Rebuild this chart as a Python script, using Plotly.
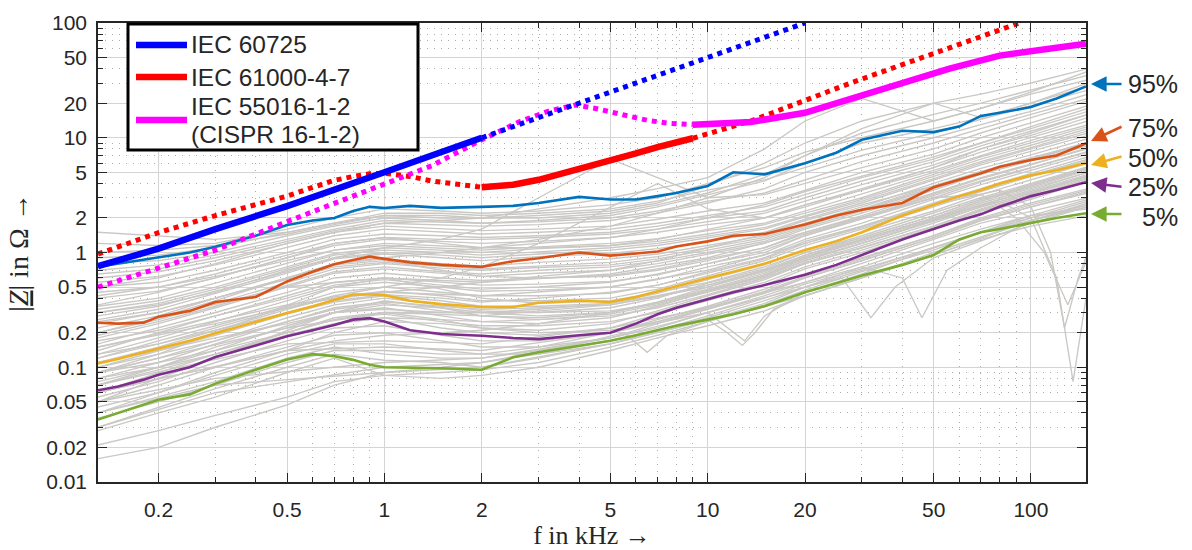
import math
import plotly.graph_objects as go

# ---------------- data ----------------
X_TICKS = [0.2, 0.5, 1, 2, 5, 10, 20, 50, 100]
X_TICK_TEXT = ["0.2", "0.5", "1", "2", "5", "10", "20", "50", "100"]
Y_TICKS = [0.01, 0.02, 0.05, 0.1, 0.2, 0.5, 1, 2, 5, 10, 20, 50, 100]
Y_TICK_TEXT = ["0.01", "0.02", "0.05", "0.1", "0.2", "0.5", "1", "2", "5", "10", "20", "50", "100"]

# grey measured curves (shared frequency grid, kHz)
GREY_F = [0.13, 0.2, 0.3, 0.5, 0.7, 1, 1.5, 2, 3, 5, 7, 10, 15, 20, 30, 50, 70, 100, 150]
GREY_CURVES = [
    [0.016, 0.020, 0.030, 0.047, 0.070, 0.09, 0.10, 0.11, 0.13, 0.17, 0.21, 0.27, 0.38, 0.5, 0.7, 1.1, 1.5, 2.0, 2.8],
    [0.021, 0.028, 0.038, 0.055, 0.075, 0.085, 0.09, 0.095, 0.11, 0.15, 0.19, 0.25, 0.35, 0.47, 0.68, 1.05, 1.5, 1.9, 2.5],
    [0.028, 0.04, 0.055, 0.09, 0.12, 0.085, 0.08, 0.085, 0.1, 0.14, 0.18, 0.23, 0.31, 0.42, 0.6, 0.95, 1.3, 1.7, 2.1],
    [0.03, 0.045, 0.065, 0.1, 0.13, 0.115, 0.11, 0.1, 0.12, 0.16, 0.2, 0.26, 0.36, 0.5, 0.75, 1.2, 1.6, 2.1, 2.4],
    [0.04, 0.055, 0.075, 0.12, 0.15, 0.13, 0.12, 0.12, 0.14, 0.18, 0.22, 0.3, 0.42, 0.55, 0.8, 1.3, 1.8, 2.3, 3.0],
    [0.045, 0.06, 0.085, 0.13, 0.16, 0.16, 0.14, 0.13, 0.13, 0.16, 0.21, 0.28, 0.4, 0.53, 0.72, 1.1, 1.5, 2.0, 2.6],
    [0.05, 0.07, 0.1, 0.15, 0.19, 0.2, 0.17, 0.15, 0.15, 0.18, 0.24, 0.32, 0.45, 0.6, 0.85, 1.35, 1.9, 2.5, 3.3],
    [0.055, 0.075, 0.11, 0.17, 0.22, 0.23, 0.19, 0.17, 0.17, 0.2, 0.26, 0.34, 0.48, 0.65, 0.9, 1.4, 2.0, 2.7, 3.6],
    [0.06, 0.085, 0.12, 0.19, 0.24, 0.27, 0.22, 0.2, 0.19, 0.22, 0.29, 0.38, 0.52, 0.72, 1.0, 1.6, 2.2, 2.9, 4.2],
    [0.07, 0.095, 0.13, 0.2, 0.27, 0.3, 0.26, 0.22, 0.21, 0.24, 0.31, 0.42, 0.58, 0.8, 1.1, 1.7, 2.4, 3.2, 4.5],
    [0.075, 0.1, 0.15, 0.22, 0.3, 0.33, 0.28, 0.25, 0.24, 0.27, 0.34, 0.46, 0.62, 0.85, 1.2, 1.9, 2.6, 3.5, 5.0],
    [0.08, 0.11, 0.16, 0.25, 0.32, 0.36, 0.31, 0.28, 0.27, 0.3, 0.37, 0.5, 0.68, 0.92, 1.3, 2.0, 2.8, 3.7, 5.2],
    [0.09, 0.12, 0.17, 0.27, 0.35, 0.4, 0.35, 0.31, 0.3, 0.33, 0.4, 0.54, 0.72, 1.0, 1.4, 2.2, 3.0, 4.0, 5.6],
    [0.1, 0.14, 0.19, 0.29, 0.37, 0.42, 0.38, 0.34, 0.34, 0.36, 0.44, 0.58, 0.78, 1.05, 1.5, 2.3, 3.2, 4.3, 6.0],
    [0.11, 0.15, 0.21, 0.32, 0.41, 0.46, 0.42, 0.38, 0.38, 0.4, 0.48, 0.63, 0.85, 1.15, 1.6, 2.5, 3.4, 4.6, 6.3],
    [0.12, 0.17, 0.23, 0.34, 0.45, 0.5, 0.45, 0.42, 0.42, 0.44, 0.52, 0.68, 0.9, 1.25, 1.7, 2.7, 3.6, 4.9, 6.8],
    [0.13, 0.18, 0.25, 0.38, 0.5, 0.55, 0.5, 0.46, 0.47, 0.5, 0.58, 0.75, 0.95, 1.3, 1.8, 2.9, 3.9, 5.2, 7.2],
    [0.14, 0.2, 0.28, 0.42, 0.55, 0.6, 0.55, 0.52, 0.53, 0.56, 0.64, 0.8, 1.0, 1.4, 2.0, 3.1, 4.2, 5.5, 7.6],
    [0.16, 0.22, 0.3, 0.45, 0.6, 0.66, 0.6, 0.57, 0.6, 0.63, 0.72, 0.88, 1.1, 1.5, 2.1, 3.3, 4.5, 5.9, 8.0],
    [0.18, 0.24, 0.33, 0.5, 0.66, 0.72, 0.66, 0.62, 0.66, 0.7, 0.8, 0.97, 1.2, 1.6, 2.2, 3.5, 4.8, 6.3, 8.5],
    [0.2, 0.26, 0.36, 0.55, 0.72, 0.8, 0.73, 0.7, 0.74, 0.78, 0.88, 1.05, 1.3, 1.7, 2.4, 3.8, 5.1, 6.7, 9.0],
    [0.22, 0.28, 0.4, 0.6, 0.8, 0.88, 0.8, 0.76, 0.82, 0.88, 0.97, 1.15, 1.4, 1.8, 2.5, 4.0, 5.4, 7.1, 9.8],
    [0.26, 0.32, 0.44, 0.66, 0.88, 0.97, 0.9, 0.85, 0.92, 0.98, 1.08, 1.25, 1.5, 1.95, 2.7, 4.3, 5.8, 7.6, 10.5],
    [0.3, 0.36, 0.48, 0.72, 0.95, 1.05, 1.0, 0.95, 1.02, 1.1, 1.2, 1.4, 1.65, 2.1, 2.9, 4.6, 6.2, 8.2, 11.5],
    [0.34, 0.4, 0.54, 0.8, 1.05, 1.15, 1.1, 1.05, 1.12, 1.2, 1.32, 1.55, 1.8, 2.3, 3.2, 5.0, 6.8, 9.0, 12.5],
    [0.4, 0.46, 0.6, 0.9, 1.15, 1.3, 1.25, 1.2, 1.25, 1.35, 1.5, 1.75, 2.0, 2.6, 3.6, 5.5, 7.5, 10, 14],
    [0.5, 0.55, 0.7, 1.0, 1.3, 1.45, 1.4, 1.35, 1.4, 1.5, 1.7, 2.0, 2.3, 3.0, 4.2, 6.2, 8.5, 11.5, 16],
    [0.6, 0.68, 0.85, 1.2, 1.5, 1.7, 1.6, 1.55, 1.6, 1.7, 1.95, 2.3, 2.7, 3.5, 5.0, 7.2, 10, 13.5, 19],
    [0.8, 0.85, 1.0, 1.4, 1.7, 2.0, 1.9, 1.8, 1.85, 2.0, 2.3, 2.8, 3.3, 4.3, 6.2, 9.0, 12, 16, 22],
    [1.5, 1.4, 1.3, 1.5, 1.8, 2.2, 2.2, 2.1, 2.2, 2.4, 2.8, 3.5, 4.3, 5.5, 7.8, 11, 14.5, 19, 26],
    [1.2, 1.15, 1.2, 1.6, 2.0, 2.4, 2.3, 2.2, 2.3, 2.6, 3.0, 4.0, 5.5, 7.5, 10, 14, 18, 24, 32],
    [0.9, 0.95, 1.1, 1.5, 1.8, 2.1, 2.0, 2.0, 2.1, 2.3, 2.7, 3.8, 6.0, 9.0, 14, 20, 24, 30, 40],
    [0.3, 0.35, 0.45, 0.7, 0.9, 1.1, 1.3, 1.6, 3.0, 6.5, 4.5, 3.0, 3.2, 4.0, 5.5, 8, 11, 15, 21],
    [0.12, 0.16, 0.22, 0.33, 0.42, 0.5, 0.6, 0.75, 1.2, 2.5, 4.0, 2.4, 2.0, 2.5, 3.5, 5.5, 8, 11, 16],
    [0.5, 0.6, 0.8, 1.2, 1.5, 1.8, 1.9, 2.0, 2.4, 3.0, 3.6, 4.5, 8.0, 14, 22, 14, 18, 25, 38],
    [0.25, 0.3, 0.4, 0.6, 0.8, 0.9, 1.0, 1.1, 1.3, 1.7, 2.2, 3.0, 4.5, 7.0, 12, 20, 15, 20, 30],
    [0.09, 0.13, 0.2, 0.35, 0.5, 0.6, 0.48, 0.4, 0.36, 0.38, 0.45, 0.55, 0.75, 1.0, 1.35, 2.1, 2.9, 3.8, 5.3],
    [0.15, 0.19, 0.24, 0.33, 0.4, 0.45, 0.5, 0.55, 0.62, 0.7, 0.85, 1.1, 1.45, 1.9, 2.6, 3.8, 5.0, 6.5, 9.0],
    [0.05, 0.08, 0.12, 0.21, 0.3, 0.38, 0.33, 0.28, 0.26, 0.28, 0.33, 0.43, 0.6, 0.82, 1.15, 1.8, 2.5, 3.3, 4.7],
    [0.06, 0.08, 0.1, 0.14, 0.17, 0.19, 0.2, 0.21, 0.24, 0.3, 0.37, 0.48, 0.66, 0.9, 1.25, 1.95, 2.7, 3.6, 5.0],
    [0.2, 0.27, 0.38, 0.6, 0.78, 0.85, 0.7, 0.62, 0.6, 0.62, 0.7, 0.85, 1.1, 1.45, 2.0, 3.2, 4.4, 5.8, 8.2],
    [0.35, 0.45, 0.6, 0.9, 1.2, 1.35, 1.2, 1.1, 1.1, 1.15, 1.3, 1.6, 2.0, 2.6, 3.5, 5.2, 7.0, 9.5, 13],
    [0.11, 0.14, 0.18, 0.24, 0.3, 0.32, 0.3, 0.3, 0.32, 0.36, 0.42, 0.52, 0.7, 0.95, 1.3, 2.0, 2.8, 3.8, 5.4],
    [0.45, 0.5, 0.62, 0.85, 1.05, 1.2, 1.15, 1.1, 1.2, 1.35, 1.6, 2.0, 2.6, 3.4, 4.6, 6.8, 9.0, 12, 17],
    [0.65, 0.72, 0.9, 1.25, 1.55, 1.8, 1.75, 1.7, 1.75, 1.9, 2.2, 2.7, 3.6, 5.0, 7.0, 10, 13, 17, 24],
    [0.04, 0.06, 0.09, 0.14, 0.2, 0.25, 0.24, 0.22, 0.2, 0.21, 0.25, 0.32, 0.44, 0.6, 0.85, 1.35, 1.9, 2.5, 3.4],
    [0.17, 0.21, 0.28, 0.4, 0.52, 0.58, 0.52, 0.48, 0.5, 0.55, 0.65, 0.8, 1.05, 1.4, 1.95, 3.0, 4.1, 5.4, 7.5],
    [0.09, 0.11, 0.14, 0.2, 0.26, 0.3, 0.3, 0.3, 0.3, 0.31, 0.36, 0.47, 0.64, 0.88, 1.2, 1.9, 2.6, 3.4, 4.8],
    [0.07, 0.1, 0.14, 0.23, 0.3, 0.35, 0.33, 0.3, 0.28, 0.3, 0.36, 0.46, 0.63, 0.85, 1.2, 1.85, 2.5, 3.3, 4.6],
    [0.13, 0.16, 0.21, 0.3, 0.38, 0.43, 0.4, 0.37, 0.4, 0.45, 0.52, 0.66, 0.88, 1.2, 1.65, 2.6, 3.5, 4.7, 6.5],
    [0.24, 0.3, 0.4, 0.58, 0.75, 0.82, 0.76, 0.72, 0.76, 0.82, 0.92, 1.1, 1.35, 1.75, 2.35, 3.7, 5.0, 6.5, 9.2],
    [0.32, 0.38, 0.5, 0.75, 0.98, 1.1, 1.05, 1.0, 1.08, 1.15, 1.25, 1.45, 1.75, 2.2, 3.0, 4.8, 6.5, 8.6, 12],
    [0.42, 0.5, 0.65, 0.95, 1.2, 1.35, 1.3, 1.3, 1.35, 1.45, 1.6, 1.85, 2.2, 2.8, 3.9, 5.8, 8.0, 10.5, 15],
    [0.55, 0.62, 0.78, 1.1, 1.4, 1.6, 1.5, 1.45, 1.5, 1.6, 1.8, 2.1, 2.5, 3.2, 4.5, 6.5, 9.0, 12.5, 18],
    [0.08, 0.1, 0.13, 0.19, 0.24, 0.27, 0.26, 0.25, 0.26, 0.29, 0.35, 0.45, 0.6, 0.8, 1.1, 1.7, 2.35, 3.1, 4.4],
    [0.06, 0.09, 0.13, 0.2, 0.26, 0.29, 0.25, 0.23, 0.23, 0.25, 0.3, 0.4, 0.55, 0.75, 1.05, 1.65, 2.3, 3.0, 4.3],
    [0.1, 0.13, 0.17, 0.25, 0.33, 0.37, 0.34, 0.32, 0.33, 0.35, 0.41, 0.52, 0.7, 0.95, 1.35, 2.1, 2.9, 3.9, 5.5],
    [0.19, 0.25, 0.34, 0.52, 0.68, 0.75, 0.68, 0.65, 0.7, 0.75, 0.84, 1.0, 1.25, 1.65, 2.3, 3.6, 4.9, 6.4, 9.0],
    [0.28, 0.34, 0.46, 0.68, 0.9, 1.0, 0.95, 0.9, 0.97, 1.05, 1.15, 1.35, 1.6, 2.05, 2.8, 4.4, 6.0, 8.0, 11],
    [0.036, 0.05, 0.07, 0.11, 0.14, 0.14, 0.13, 0.13, 0.15, 0.2, 0.25, 0.33, 0.46, 0.62, 0.88, 1.4, 1.95, 2.6, 3.5],
    [0.7, 0.78, 0.95, 1.3, 1.6, 1.9, 1.85, 1.8, 1.9, 2.1, 2.5, 3.2, 4.2, 6.0, 9.0, 12, 15, 20, 28],
    [1.0, 1.05, 1.15, 1.45, 1.75, 2.1, 2.1, 2.0, 2.0, 2.2, 2.6, 3.3, 4.8, 7.0, 11, 16, 20, 26, 35],
]

# grey curves with resonance dips (own frequency grids)
SPECIAL_F = [
    [0.13, 0.3, 1, 2, 5, 8, 10, 11.5, 12.8, 14, 16, 20, 30, 50, 100, 150],
    [0.13, 0.3, 1, 2, 5, 8, 10, 12, 13, 15, 20, 30, 50, 100, 150],
    [0.13, 0.5, 1, 2, 5, 10, 20, 26, 32, 38, 50, 100, 150],
    [0.13, 0.5, 1, 2, 5, 10, 20, 30, 40, 46, 55, 70, 100, 150],
    [0.13, 0.5, 1, 2, 5, 10, 20, 50, 80, 100, 120, 135, 148],
    [0.13, 0.5, 1, 2, 5, 10, 20, 50, 80, 100, 115, 127, 140, 150],
    [0.13, 0.5, 1, 2, 5, 10, 20, 50, 70, 90, 110, 130, 150],
    [0.13, 0.3, 1, 2, 4, 5.5, 6.5, 7.5, 10, 20, 50, 100, 150],
]
SPECIAL_V = [
    [0.04, 0.07, 0.09, 0.1, 0.16, 0.22, 0.26, 0.2, 0.155, 0.2, 0.32, 0.42, 0.6, 1.0, 1.9, 2.6],
    [0.05, 0.08, 0.11, 0.12, 0.18, 0.25, 0.3, 0.2, 0.17, 0.28, 0.45, 0.65, 1.1, 2.1, 2.9],
    [0.06, 0.14, 0.15, 0.14, 0.2, 0.3, 0.5, 0.6, 0.27, 0.5, 0.9, 1.8, 2.5],
    [0.07, 0.16, 0.17, 0.16, 0.22, 0.33, 0.55, 0.75, 0.6, 0.27, 0.7, 1.1, 1.9, 2.7],
    [0.09, 0.22, 0.3, 0.28, 0.35, 0.5, 0.9, 2.0, 2.8, 2.0, 0.6, 0.075, 0.4],
    [0.15, 0.35, 0.45, 0.42, 0.5, 0.7, 1.2, 2.6, 3.5, 2.5, 1.0, 0.22, 0.6, 1.0],
    [0.2, 0.5, 0.6, 0.55, 0.65, 0.9, 1.5, 3.0, 3.2, 2.0, 1.0, 0.35, 0.9],
    [0.03, 0.06, 0.1, 0.11, 0.16, 0.2, 0.135, 0.19, 0.25, 0.42, 0.95, 1.9, 2.5],
]

# percentile curves
PCT_F = [0.13, 0.15, 0.18, 0.2, 0.25, 0.3, 0.4, 0.5, 0.6, 0.7, 0.8, 0.9, 1, 1.2, 1.5, 2, 2.5, 3, 4, 5,
         6, 7, 8, 10, 12, 15, 20, 25, 30, 40, 50, 60, 70, 80, 100, 120, 148]
P95 = [0.75, 0.8, 0.86, 0.9, 1.0, 1.12, 1.4, 1.74, 1.9, 2.0, 2.3, 2.5, 2.44, 2.55, 2.45, 2.5, 2.55, 2.7, 3.05, 2.9,
       2.9, 3.1, 3.3, 3.8, 5.0, 4.8, 6.0, 7.4, 9.6, 11.5, 11.2, 12.5, 15.5, 16.5, 18.5, 22, 28]
P75 = [0.244, 0.24, 0.245, 0.276, 0.31, 0.37, 0.41, 0.56, 0.68, 0.79, 0.86, 0.92, 0.88, 0.82, 0.78, 0.75, 0.84, 0.89, 1.0, 0.94,
       0.98, 1.02, 1.13, 1.25, 1.4, 1.45, 1.75, 2.1, 2.36, 2.7, 3.7, 4.3, 4.9, 5.6, 6.4, 7.0, 8.9]
P50 = [0.108, 0.118, 0.135, 0.146, 0.17, 0.198, 0.25, 0.297, 0.34, 0.386, 0.43, 0.43, 0.425, 0.38, 0.355, 0.335, 0.335, 0.365, 0.38, 0.37,
       0.41, 0.46, 0.51, 0.6, 0.68, 0.8, 1.05, 1.25, 1.5, 2.1, 2.6, 3.1, 3.5, 4.0, 4.7, 5.2, 6.0]
P25 = [0.063, 0.068, 0.078, 0.086, 0.1, 0.123, 0.155, 0.186, 0.21, 0.233, 0.26, 0.268, 0.25, 0.21, 0.195, 0.188, 0.18, 0.176, 0.19, 0.2,
       0.24, 0.29, 0.33, 0.39, 0.45, 0.52, 0.64, 0.78, 0.95, 1.3, 1.6, 1.9, 2.15, 2.5, 3.1, 3.5, 4.1]
P5 = [0.035, 0.04, 0.047, 0.052, 0.058, 0.072, 0.095, 0.117, 0.13, 0.125, 0.116, 0.105, 0.1, 0.099, 0.098, 0.095, 0.122, 0.135, 0.155, 0.17,
      0.19, 0.21, 0.23, 0.26, 0.29, 0.34, 0.45, 0.54, 0.63, 0.78, 0.95, 1.3, 1.5, 1.6, 1.8, 2.0, 2.2]
PCT_NAMES = ["95%", "75%", "50%", "25%", "5%"]
PCT_VALUES = [P95, P75, P50, P25, P5]
PCT_COLORS = ["#0072BD", "#D95319", "#EDB120", "#7E2F8E", "#77AC30"]

# standard reference impedances
IEC60725_F = [0.13, 0.2, 0.3, 0.5, 1, 2]
IEC60725_V = [0.76, 1.08, 1.6, 2.54, 5.0, 10.0]
IEC60725_EXT_F = [2, 5, 10, 20]
IEC60725_EXT_V = [10.0, 25, 50, 100]

IEC61000_LOW_F = [0.13, 0.2, 0.3, 0.4, 0.5, 0.6, 0.7, 0.8, 0.9, 1.0, 1.2, 1.4, 1.7, 2.0]
IEC61000_LOW_V = [0.97, 1.49, 2.1, 2.65, 3.1, 3.7, 4.25, 4.6, 4.85, 4.9, 4.6, 4.2, 3.9, 3.7]
IEC61000_F = [2, 2.5, 3, 4, 5, 6, 7, 8, 9]
IEC61000_V = [3.7, 3.9, 4.3, 5.3, 6.3, 7.3, 8.3, 9.1, 9.9]
IEC61000_HIGH_F = [9, 13.6, 27.7, 56, 81, 92]
IEC61000_HIGH_V = [9.9, 14, 30, 60, 87, 100]

CISPR_LOW_F = [0.13, 0.2, 0.3, 0.5, 0.7, 1, 1.4, 2, 2.6, 3.2, 3.9, 4.5, 5.4, 6.5, 7.5, 9]
CISPR_LOW_V = [0.5, 0.73, 1.05, 1.86, 2.7, 4.0, 5.7, 9.6, 13.7, 17, 19.3, 18, 15.8, 14.2, 13.4, 13.0]
CISPR_F = [9, 10, 13.6, 20, 27.7, 40, 56, 80, 100, 120, 148]
CISPR_V = [13.0, 13.1, 13.7, 16.5, 21.9, 29.6, 40, 52, 57, 61, 66]

LEGEND_LINES = [["IEC 60725"], ["IEC 61000-4-7"], ["IEC 55016-1-2", "(CISPR 16-1-2)"]]
LEGEND_COLORS = ["#0000FF", "#FF0000", "#FF00FF"]

# ---------------- figure ----------------
fig = go.Figure()
GREY = "rgb(202,200,196)"
for vals in GREY_CURVES:
    fig.add_trace(go.Scatter(x=GREY_F, y=vals, mode="lines", line=dict(color=GREY, width=1.35),
                             showlegend=False, hoverinfo="skip"))
for fv, vv in zip(SPECIAL_F, SPECIAL_V):
    fig.add_trace(go.Scatter(x=fv, y=vv, mode="lines", line=dict(color=GREY, width=1.35),
                             showlegend=False, hoverinfo="skip"))

for name, vals, col in zip(PCT_NAMES, PCT_VALUES, PCT_COLORS):
    fig.add_trace(go.Scatter(x=PCT_F, y=vals, mode="lines", name=name,
                             line=dict(color=col, width=2.6), showlegend=False))

DOT = "5px,5px"
DOTW = 5
fig.add_trace(go.Scatter(x=IEC61000_LOW_F, y=IEC61000_LOW_V, mode="lines",
                         line=dict(color="#FF0000", width=DOTW, dash=DOT), showlegend=False))
fig.add_trace(go.Scatter(x=IEC61000_HIGH_F, y=IEC61000_HIGH_V, mode="lines",
                         line=dict(color="#FF0000", width=DOTW, dash=DOT), showlegend=False))
fig.add_trace(go.Scatter(x=CISPR_LOW_F, y=CISPR_LOW_V, mode="lines",
                         line=dict(color="#FF00FF", width=DOTW, dash=DOT), showlegend=False))
fig.add_trace(go.Scatter(x=IEC60725_EXT_F, y=IEC60725_EXT_V, mode="lines",
                         line=dict(color="#0000FF", width=DOTW, dash=DOT), showlegend=False))

fig.add_trace(go.Scatter(x=IEC60725_F, y=IEC60725_V, mode="lines", name="IEC 60725",
                         line=dict(color="#0000FF", width=6.5), showlegend=False))
fig.add_trace(go.Scatter(x=IEC61000_F, y=IEC61000_V, mode="lines", name="IEC 61000-4-7",
                         line=dict(color="#FF0000", width=6.5), showlegend=False))
fig.add_trace(go.Scatter(x=CISPR_F, y=CISPR_V, mode="lines", name="IEC 55016-1-2 (CISPR 16-1-2)",
                         line=dict(color="#FF00FF", width=6.5), showlegend=False))

# minor tick positions
def minors(lo_exp, hi_exp, lo, hi):
    out = []
    for e in range(lo_exp, hi_exp + 1):
        for m in (3, 4, 6, 7, 8, 9):
            v = m * 10 ** e
            if lo <= v <= hi:
                out.append(v)
    return out

X_MIN, X_MAX = 0.13, 148
INK = "#262626"
SANS = "Liberation Sans, Arial, sans-serif"
TICKFONT = dict(family=SANS, size=21, color=INK)
TITLEFONT = dict(family="Liberation Serif, Times New Roman, serif", size=26, color=INK)

axis_common = dict(
    type="log", showline=True, linecolor=INK, linewidth=1.5, mirror="ticks",
    ticks="inside", ticklen=9, tickwidth=1.3, tickcolor=INK,
    showgrid=True, gridcolor="rgb(212,212,212)", gridwidth=1.2,
    tickfont=TICKFONT, zeroline=False, automargin=False,
)

fig.update_xaxes(
    **axis_common,
    range=[math.log10(X_MIN), math.log10(X_MAX)],
    tickmode="array", tickvals=X_TICKS, ticktext=X_TICK_TEXT,
    minor=dict(tickmode="array", tickvals=minors(-1, 2, X_MIN, X_MAX), ticks="inside", ticklen=5,
               tickcolor=INK, showgrid=True, gridcolor="rgb(170,170,170)", griddash="1px,6px", gridwidth=1.2),
    title=dict(text="f in kHz →", font=TITLEFONT, standoff=4),
    ticklabelstandoff=8,
)
fig.update_yaxes(
    **axis_common,
    range=[-2, 2],
    tickmode="array", tickvals=Y_TICKS, ticktext=Y_TICK_TEXT,
    minor=dict(tickmode="array", tickvals=minors(-2, 1, 0.01, 100), ticks="inside", ticklen=5,
               tickcolor=INK, showgrid=True, gridcolor="rgb(170,170,170)", griddash="1px,6px", gridwidth=1.2),
    title=dict(text="|<i><u>Z</u></i>| in Ω →", font=dict(family="Liberation Serif, Times New Roman, serif",
                                                          size=28, color=INK), standoff=9),
    ticklabelstandoff=5,
)

# pixel -> paper helpers for the plot frame
PX_L, PX_R, PX_T, PX_B = 98, 1086, 23, 482
def px2paper_x(px):
    return (px - PX_L) / (PX_R - PX_L)
def px2paper_y(py):
    return (PX_B - py) / (PX_B - PX_T)

# right-hand percentile labels with arrows
ARROW_HEAD_Y = [84, 141, 165, 183, 214]
ARROW_DY = [0, -15, -9, 4, 0]
LABEL_Y = [84, 128, 158, 187, 217]
annots = []
for name, col, hy, dy, ly in zip(PCT_NAMES, PCT_COLORS, ARROW_HEAD_Y, ARROW_DY, LABEL_Y):
    annots.append(dict(xref="paper", yref="paper", x=px2paper_x(1091), y=px2paper_y(hy),
                       ax=32, ay=dy, text="", showarrow=True, arrowhead=2, arrowsize=1.2,
                       arrowwidth=2.6, arrowcolor=col))
    annots.append(dict(xref="paper", yref="paper", x=px2paper_x(1180), y=px2paper_y(ly),
                       xanchor="right", yanchor="middle", text=name, showarrow=False,
                       font=dict(family=SANS, size=25, color=INK)))

# legend box (drawn manually for tight line spacing)
shapes = [dict(type="rect", xref="paper", yref="paper",
               x0=px2paper_x(128), x1=px2paper_x(418), y0=px2paper_y(150), y1=px2paper_y(24),
               fillcolor="white", line=dict(color="black", width=3), layer="above")]
LEG_SAMPLE_Y = [45, 77, 120]
LEG_TEXT_Y = [[45], [77], [106, 134]]
for col, sy, lines, tys in zip(LEGEND_COLORS, LEG_SAMPLE_Y, LEGEND_LINES, LEG_TEXT_Y):
    shapes.append(dict(type="line", xref="paper", yref="paper",
                       x0=px2paper_x(136), x1=px2paper_x(187), y0=px2paper_y(sy), y1=px2paper_y(sy),
                       line=dict(color=col, width=6.5), layer="above"))
    for txt, ty in zip(lines, tys):
        annots.append(dict(xref="paper", yref="paper", x=px2paper_x(189), y=px2paper_y(ty),
                           xanchor="left", yanchor="middle", text=txt, showarrow=False,
                           font=dict(family=SANS, size=24.5, color=INK)))

fig.update_layout(
    width=1192, height=550,
    margin=dict(l=98, r=106, t=23, b=68),
    paper_bgcolor="white", plot_bgcolor="white",
    showlegend=False,
    annotations=annots,
    shapes=shapes,
)

fig.write_html("out.html")
